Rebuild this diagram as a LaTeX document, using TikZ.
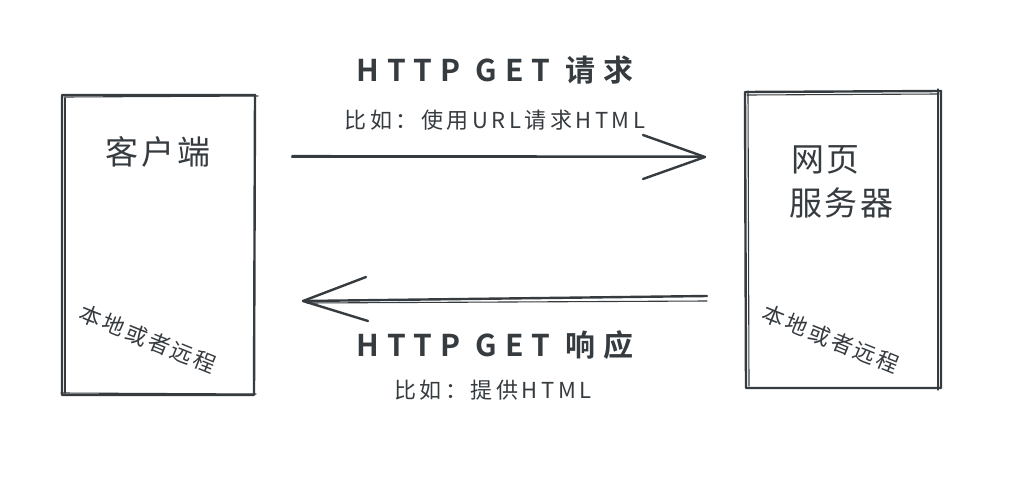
\documentclass[tikz,border=0pt]{standalone}
\usepackage{fontspec}
\setmainfont{Noto Sans CJK SC}[BoldFont={* Bold}]
\usetikzlibrary{calc}
\definecolor{ink}{HTML}{363B40}
\tikzset{
  sketch/.style={draw=ink, line width=2.4pt, line cap=round, line join=round},
  thin sketch/.style={draw=ink, line width=1.1pt, line cap=round},
  title/.style={text=ink, font=\fontsize{30}{32}\selectfont\bfseries\addfontfeature{LetterSpace=27}, inner sep=0pt},
  sub/.style={text=ink, font=\fontsize{22}{24}\selectfont\addfontfeature{LetterSpace=16}, inner sep=0pt},
  boxlabel/.style={text=ink, font=\fontsize{33}{40}\selectfont\addfontfeature{LetterSpace=8}, inner sep=0pt, align=left},
  note/.style={text=ink, font=\fontsize{22}{24}\selectfont\addfontfeature{LetterSpace=12}, inner sep=0pt, rotate=-22},
}
\begin{document}
\begin{tikzpicture}[x=1pt, y=-1pt]
\useasboundingbox[fill=white] (0,0) rectangle (1018,482);
% client box
\coordinate (c1) at (62,95);
\coordinate (c2) at (255,95);
\coordinate (c3) at (254,395);
\coordinate (c4) at (62,395);
\draw[sketch] (c1) -- (c2) -- (c3) -- (c4) -- cycle;
\draw[thin sketch] ($(c1)+(2,2)$) -- ($(c2)+(3,1)$);
\draw[thin sketch] ($(c4)+(-1,-2)$) -- ($(c3)+(2,-1)$);
\draw[thin sketch] ($(c1)+(3,3)$) -- ($(c4)+(3,-2)$);
% server box
\coordinate (s1) at (745,92);
\coordinate (s2) at (941,91);
\coordinate (s3) at (941,388);
\coordinate (s4) at (746,388);
\draw[sketch] (s1) -- (s2) -- (s3) -- (s4) -- cycle;
\draw[thin sketch] ($(s1)+(2,3)$) -- ($(s2)+(-2,3)$);
\draw[thin sketch] ($(s2)+(-3,-2)$) -- ($(s3)+(-3,2)$);
\draw[thin sketch] ($(s1)+(3,-1)$) -- ($(s4)+(3,-2)$);

\node[boxlabel] (client) at (158,152) {客户端};
\node[boxlabel, anchor=west] (server1) at (791,160) {网页};
\node[boxlabel, anchor=west] (server2) at (789,203) {服务器};
\node[note] (clientloc) at (148,339) {本地或者远程};
\node[note] (serverloc) at (831,339) {本地或者远程};

% request arrow
\coordinate (rqs) at (292,157);
\coordinate (rqe) at (705,157);
\coordinate (rqa) at (643,135);
\coordinate (rqb) at (643,179);
\draw[sketch] (rqs) -- (rqe);
\draw[thin sketch] ($(rqs)+(0,-1.5)$) -- ($(rqe)+(-2,-1)$);
\draw[sketch] (rqa) -- (rqe) -- (rqb);
\node[title] (reqtitle) at (495,70) {HTTP GET 请求};
\node[sub] (reqsub) at (495,120) {比如：使用URL请求HTML};

% response arrow
\coordinate (rss) at (707,296);
\coordinate (rse) at (303,301);
\coordinate (rsa) at (366,277);
\coordinate (rsb) at (368,321);
\draw[sketch] (rss) -- (rse);
\draw[thin sketch] ($(rss)+(0,5)$) -- ($(rse)+(4,2)$);
\draw[sketch] (rsa) -- (rse) -- (rsb);
\node[title] (restitle) at (495,345) {HTTP GET 响应};
\node[sub] (ressub) at (493,390) {比如：提供HTML};
\end{tikzpicture}
\end{document}
